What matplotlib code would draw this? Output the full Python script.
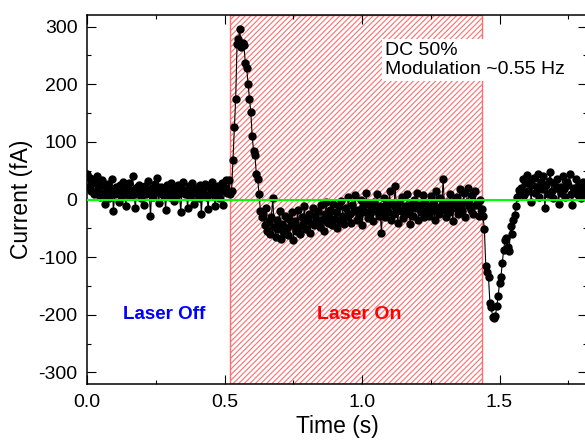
import numpy as np
import matplotlib
matplotlib.use("Agg")
import matplotlib.pyplot as plt
from matplotlib.ticker import MultipleLocator

plt.rcParams['font.family'] = ['Liberation Sans', 'DejaVu Sans']
plt.rcParams['hatch.linewidth'] = 0.8
plt.rcParams['axes.unicode_minus'] = False

# =========================
# DATA (one sample every 5 ms)
# =========================
sample_dt = 0.005  # s

# laser off, 0.000 - 0.510 s
current_off = [
    45, 22, 38, 15, 30, 10, 28, 40, 18, 5,
    25, 33, 12, -8, 20, 27, 2, 15, 35, -20,
    10, 22, 18, -5, 25, 8, 30, 14, -12, 20,
    28, 6, 17, 40, 10, -15, 22, 12, 26, 3,
    18, -10, 24, 9, 32, 15, -28, 20, 5, 27,
    13, 38, -6, 19, 22, 8, 16, -18, 25, 11,
    4, 29, 14, -3, 21, 7, 26, 12, -22, 18,
    30, 9, 15, -14, 23, 6, 28, 17, -8, 12,
    20, 3, 25, -25, 16, 10, 27, 5, -16, 22,
    14, 31, 8, -12, 19, 24, 2, 15, 29, -10,
    20, 33, 12,
]

# switch-on spike, 0.515 - 0.635 s
current_spike = [
    33, 10, 15, 68, 125, 175, 270, 278, 295, 265,
    272, 268, 237, 228, 200, 175, 152, 110, 85, 78,
    45, 35, 10, -20, -30,
]

# laser on, 0.640 - 1.435 s
current_on = [
    -25, -45, -15, -55, -38, -60, -30, 3, -48, -65, -35, -52, -20, -68, -42, -58, -28, -50, -62, -33,
    -45, -22, -70, -38, -55, -18, -48, -60, -30, -42, -12, -52, -35, -25, -58, -40, -15, -45, -28, -38,
    -20, -48, -10, -35, -55, -25, -5, -40, -30, -18, -45, -8, -33, -22, -50, -12, -38, -2, -28, -42,
    -15, -30, 5, -25, -40, -10, -20, 8, -35, -18, -28, 0, -45, -12, -22, 12, -32, -8, -25, -15,
    -38, -5, -20, 10, -28, -12, -58, -18, 2, -30, -10, -22, 15, -35, -8, -25, 24, -15, -40, -5,
    -20, 5, -32, -12, -25, 10, -18, -42, -8, -28, 0, -15, 12, -35, -10, -22, 8, -30, -5, -18,
    -12, -28, 6, -20, -8, -35, 15, -15, -25, 2, -10, 35, -18, -30, -5, -22, 10, -12, -38, -2,
    -15, 5, -25, 18, -8, -20, 12, -30, -5, 20, -12, -18, 8, -25, 15, -10, -5, -28, 0, -17,
]

# switch-off dip, 1.440 - 1.575 s
current_dip = [
    -29, -52, -116, -125, -135, -179, -186, -204, -206, -202,
    -185, -168, -144, -135, -110, -88, -70, -66, -82, -90,
    -46, -60, -35, -26, -12, 5, 17, 10,
]

# laser off again, 1.580 - 1.810 s
current_off2 = [
    20, 35, 8, 28, 42, 15, 30, -5, 25, 38,
    12, 22, 45, 5, 30, 18, 40, -15, 25, 10,
    32, 48, 15, 3, 28, 20, 36, -8, 22, 12,
    40, 18, 5, 30, 25, 45, 10, -10, 20, 15,
    35, 8, 25, 2, 18, 30, 12,
]

current_fA = np.array(current_off + current_spike + current_on + current_dip + current_off2)
time_s = np.arange(len(current_fA)) * sample_dt

laser_on_start = 0.52
laser_on_end = 1.435

# =========================
# PLOT
# =========================
fig = plt.figure(figsize=(5.85, 4.42), dpi=100)
ax = fig.add_axes([0.1492, 0.1312, 0.855, 0.8348])

ax.axvspan(laser_on_start, laser_on_end, facecolor='none', edgecolor='#ff6e6e',
           hatch='//////', linewidth=1.0, zorder=1)

ax.plot(time_s, current_fA, '-o', color='black', lw=0.8, ms=5, zorder=3)
ax.axhline(0, color='#00ff00', lw=1.5, zorder=4)

ax.text(1.083, 274, "DC 50%\nModulation ~0.55 Hz", fontsize=14, ha='left', va='top',
        linespacing=1.2, bbox=dict(facecolor='white', edgecolor='none', pad=2), zorder=5)
ax.text(0.279, -200, "Laser Off", color='#0000ff', fontsize=13.5, fontweight='bold',
        ha='center', va='center', zorder=5)
ax.text(0.989, -200, "Laser On", color='#ff0000', fontsize=14, fontweight='bold',
        ha='center', va='center', zorder=5)

ax.set_xlim(0, 1.82)
ax.set_ylim(-320, 320)
ax.xaxis.set_major_locator(MultipleLocator(0.5))
ax.xaxis.set_minor_locator(MultipleLocator(0.25))
ax.yaxis.set_major_locator(MultipleLocator(100))
ax.yaxis.set_minor_locator(MultipleLocator(50))
ax.xaxis.set_major_formatter(plt.FormatStrFormatter('%.1f'))

ax.tick_params(which='both', direction='in', top=True, right=True, width=0.8)
ax.tick_params(which='major', length=6.5, labelsize=14, pad=7)
ax.tick_params(which='minor', length=3)
for s in ax.spines.values():
    s.set_linewidth(1.1)

ax.set_xlabel("Time (s)", fontsize=16.5, labelpad=3)
ax.set_ylabel("Current (fA)", fontsize=16.5, labelpad=4)

fig.savefig("out.png", dpi=100)
